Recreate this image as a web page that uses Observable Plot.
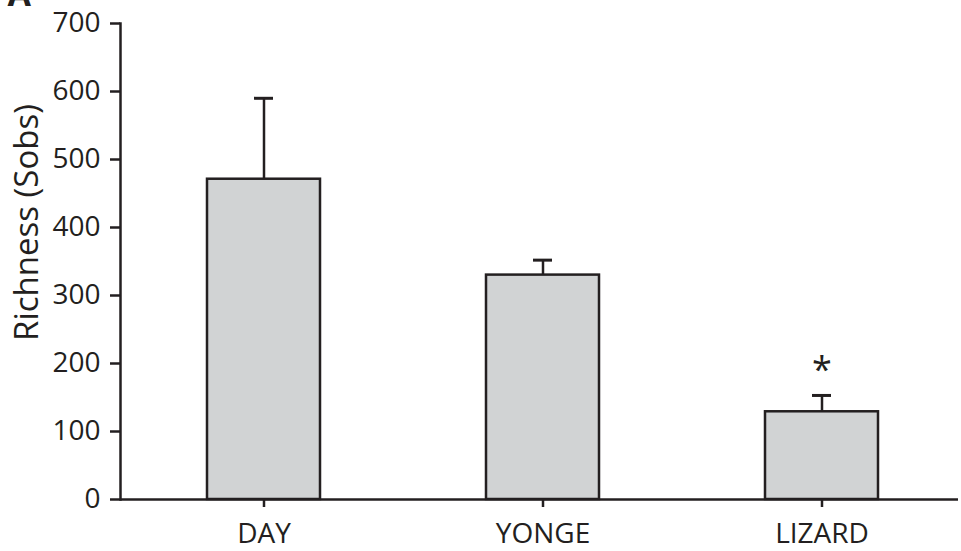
<!DOCTYPE html>
<html>
<head>
<meta charset="utf-8">
<script src="https://cdn.jsdelivr.net/npm/d3@7"></script>
<script src="https://cdn.jsdelivr.net/npm/@observablehq/plot@0.6"></script>
<style>
  html, body { margin: 0; padding: 0; background: #fff; }
  #chart { width: 961px; height: 551px; overflow: hidden; }
</style>
</head>
<body>
<div id="chart"></div>
<script>
// Data
const sites = ["DAY", "YONGE", "LIZARD"];
const richness = [471, 330, 129];
const upperError = [590, 352, 153];
const yTicks = [0, 100, 200, 300, 400, 500, 600, 700];
const yLabel = "Richness (Sobs)";
const panelLabel = "A";
const significance = [{site: "LIZARD", y: 201, mark: "*"}];

const rows = sites.map((s, i) => ({site: s, value: richness[i], upper: upperError[i]}));

const ink = "#231f20";
const chart = Plot.plot({
  width: 961,
  height: 551,
  marginLeft: 120,
  marginRight: 3,
  marginTop: 23,
  marginBottom: 52,
  style: {fontFamily: "'Open Sans', sans-serif", color: ink, background: "#fff", overflow: "visible"},
  x: {domain: sites, paddingInner: 0.595, paddingOuter: 0.297, align: 0.52, label: null},
  y: {domain: [0, 700], label: null},
  marks: [
    Plot.ruleX(rows, {x: "site", y1: "value", y2: "upper", stroke: ink, strokeWidth: 2.5}),
    Plot.tickY(rows, {x: "site", y: "upper", stroke: ink, strokeWidth: 3, insetLeft: 47, insetRight: 47}),
    Plot.barY(rows, {x: "site", y: "value", fill: "#d1d3d4", stroke: ink, strokeWidth: 2.5}),
    Plot.text(significance, {x: "site", y: "y", text: "mark", fontSize: 36, fill: ink, dy: 8}),
    Plot.axisY({ticks: yTicks, tickSize: 10, tickPadding: 10, fontSize: 28, tickFormat: d => String(d), label: null, strokeWidth: 2.5}),
    Plot.axisX({tickSize: 8, tickPadding: 16, fontSize: 28, label: null, strokeWidth: 2.5}),
    Plot.frame({anchor: "left", stroke: ink, strokeWidth: 2.5}),
    Plot.ruleY([0], {stroke: ink, strokeWidth: 2.5}),
    Plot.text([yLabel], {frameAnchor: "left", rotate: -90, dx: -93, dy: -39, fontSize: 33, fill: ink, textAnchor: "middle"}),
    Plot.text([panelLabel], {frameAnchor: "top-left", dx: -113, dy: -18, lineAnchor: "bottom", textAnchor: "start", fontSize: 34, fontWeight: "bold", fill: ink})
  ]
});
document.getElementById("chart").append(chart);
</script>
</body>
</html>
